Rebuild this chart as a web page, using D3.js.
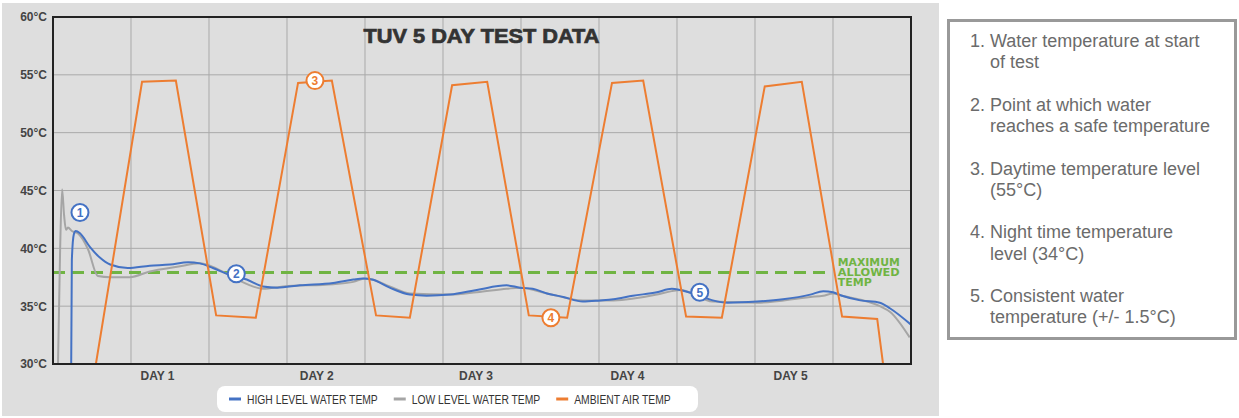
<!DOCTYPE html>
<html>
<head>
<meta charset="utf-8">
<script src="https://cdn.jsdelivr.net/npm/d3@7"></script>
<style>
  body { margin: 0; background: #fff; }
  svg { display: block; }
</style>
</head>
<body>
<svg id="chart" width="1239" height="418"></svg>
<script>
// hours since start of test, temperatures in °C
const ambientHours = [6.6, 13.7, 18.9, 25.1, 31.2, 37.7, 42.9, 49.7, 54.9, 61.4, 66.8, 73.2, 79.1, 86.0, 90.8, 97.4, 102.9, 109.5, 115.2, 121.4, 126.8, 127.7];
const ambientTemp  = [30.0, 54.4, 54.5, 34.2, 34.0, 54.3, 54.5, 34.2, 34.0, 54.1, 54.4, 34.2, 34.0, 54.3, 54.5, 34.1, 34.0, 54.0, 54.4, 34.1, 33.9, 30.0];

const highHours = [2.8, 2.9, 3.2, 3.5, 4.15, 5.7, 7.2, 8.8, 11.5, 14.9, 18.0, 20.8, 22.6, 24.6, 27.2, 29.8, 32.3, 34.5, 38.0, 43.1, 46.2, 47.7, 49.1, 51.8, 54.9, 57.5, 61.1, 65.2, 69.8, 71.8, 73.8, 76.0, 78.5, 81.5, 84.2, 86.2, 89.2, 92.9, 95.2, 96.5, 99.5, 101.5, 103.8, 108.3, 112.3, 116.5, 118.5, 120.0, 121.4, 124.2, 127.2, 128.8, 132.0];
const highTemp  = [30.0, 39.0, 41.2, 41.5, 41.3, 40.1, 39.2, 38.6, 38.3, 38.5, 38.6, 38.8, 38.7, 38.3, 37.7, 37.3, 36.7, 36.6, 36.8, 37.0, 37.3, 37.4, 37.3, 36.6, 36.0, 35.9, 36.0, 36.4, 36.8, 36.6, 36.5, 36.1, 35.8, 35.4, 35.5, 35.6, 35.9, 36.2, 36.5, 36.4, 35.9, 35.5, 35.3, 35.4, 35.6, 36.0, 36.3, 36.2, 35.9, 35.5, 35.3, 34.8, 33.4];

const lowHours = [0.77, 1.1, 1.4, 1.7, 2.0, 2.3, 2.9, 3.8, 5.4, 6.9, 8.8, 11.8, 14.9, 19.1, 22.6, 24.6, 27.7, 30.3, 32.3, 35.4, 43.1, 46.2, 48.0, 49.1, 51.8, 54.9, 61.1, 65.2, 69.8, 71.8, 76.0, 81.5, 86.2, 92.9, 95.2, 96.5, 101.5, 108.3, 116.5, 118.5, 120.0, 121.4, 127.2, 128.8, 131.8];
const lowTemp  = [30.0, 40.0, 45.1, 42.9, 41.6, 41.8, 41.5, 41.3, 39.9, 37.6, 37.5, 37.5, 38.0, 38.4, 38.7, 38.4, 37.5, 36.8, 36.5, 36.7, 36.9, 37.1, 37.4, 37.3, 36.7, 36.1, 36.0, 36.2, 36.5, 36.6, 36.1, 35.5, 35.5, 36.0, 36.3, 36.4, 35.4, 35.3, 35.8, 35.9, 36.1, 35.9, 35.0, 34.5, 32.3];

const maxAllowed = 37.9;
const maxAllowedEnd = 119.5;

const yTicks = [30, 35, 40, 45, 50, 55, 60];
const gridHours = [12, 24, 36, 48, 60, 72, 84, 96, 108, 120];
const dayLabels = ["DAY 1", "DAY 2", "DAY 3", "DAY 4", "DAY 5"];
const dayHours = [16, 40.5, 65, 88.3, 113.4];

const seriesNames = ["HIGH LEVEL WATER TEMP", "LOW LEVEL WATER TEMP", "AMBIENT AIR TEMP"];

const markerLabels = ["1", "2", "3", "4", "5"];
const markerHours = [4.15, 28.2, 40.3, 76.6, 99.5];
const markerTemp = [43.1, 37.8, 54.5, 34.0, 36.2];
const markerSeries = ["high", "high", "ambient", "ambient", "high"];

const notes = [
  ["Water temperature at start", "of test"],
  ["Point at which water", "reaches a safe temperature"],
  ["Daytime temperature level", "(55°C)"],
  ["Night time temperature", "level (34°C)"],
  ["Consistent water", "temperature (+/- 1.5°C)"]
];

const colors = { high: "#4472c4", low: "#a5a5a5", ambient: "#ed7d31", green: "#70b443" };

const svg = d3.select("#chart");
const plot = { left: 53, right: 911, top: 17, bottom: 364 };

const x = d3.scaleLinear().domain([0, 132]).range([plot.left, plot.right]);
const y = d3.scaleLinear().domain([30, 60]).range([plot.bottom, plot.top]);

// grey panel
svg.append("rect").attr("x", 2).attr("y", 3).attr("width", 937).attr("height", 413).attr("fill", "#dedede");

// grid
svg.append("g").selectAll("line").data(yTicks.slice(1, -1)).join("line")
  .attr("x1", plot.left).attr("x2", plot.right)
  .attr("y1", d => y(d)).attr("y2", d => y(d))
  .attr("stroke", "#a9a9a9").attr("stroke-width", 1);
svg.append("g").selectAll("line").data(gridHours).join("line")
  .attr("x1", d => x(d)).attr("x2", d => x(d))
  .attr("y1", plot.top).attr("y2", plot.bottom)
  .attr("stroke", "#a9a9a9").attr("stroke-width", 1);

// y axis labels
const yAxis = d3.axisLeft(y).tickValues(yTicks).tickSize(0).tickPadding(6).tickFormat(d => d + "°C");
svg.append("g").attr("transform", `translate(${plot.left},0)`).call(yAxis)
  .call(g => g.select(".domain").remove())
  .selectAll("text")
  .attr("font-family", "Liberation Sans, Arial, sans-serif")
  .attr("font-size", 12).attr("font-weight", "bold").attr("fill", "#444");

// day labels
const xAxis = d3.axisBottom(x).tickValues(dayHours).tickSize(0).tickPadding(7)
  .tickFormat((d, i) => dayLabels[i]);
svg.append("g").attr("transform", `translate(0,${plot.bottom})`).call(xAxis)
  .call(g => g.select(".domain").remove())
  .selectAll("text")
  .attr("font-family", "Liberation Sans, Arial, sans-serif")
  .attr("font-size", 12).attr("font-weight", "bold").attr("fill", "#444");

// title
svg.append("text").attr("x", 481.5).attr("y", 43).attr("text-anchor", "middle")
  .attr("font-family", "Liberation Sans, Arial, sans-serif").attr("font-weight", "bold")
  .attr("font-size", 20).attr("fill", "#333").attr("stroke", "#333").attr("stroke-width", 0.7)
  .attr("textLength", 236).attr("lengthAdjust", "spacingAndGlyphs")
  .text("TUV 5 DAY TEST DATA");

// clip for series
svg.append("clipPath").attr("id", "clip").append("rect")
  .attr("x", plot.left).attr("y", plot.top)
  .attr("width", plot.right - plot.left).attr("height", plot.bottom - plot.top);

const smooth = d3.line().x(d => x(d[0])).y(d => y(d[1])).curve(d3.curveMonotoneX);
const straight = d3.line().x(d => x(d[0])).y(d => y(d[1]));

const lines = svg.append("g").attr("clip-path", "url(#clip)");

// threshold line
lines.append("line")
  .attr("x1", plot.left).attr("x2", x(maxAllowedEnd))
  .attr("y1", y(maxAllowed)).attr("y2", y(maxAllowed))
  .attr("stroke", colors.green).attr("stroke-width", 3).attr("stroke-dasharray", "12,7");

lines.append("path").datum(lowHours.map((h, i) => [h, lowTemp[i]]))
  .attr("d", smooth).attr("fill", "none").attr("stroke", colors.low).attr("stroke-width", 2);
lines.append("path").datum(highHours.map((h, i) => [h, highTemp[i]]))
  .attr("d", smooth).attr("fill", "none").attr("stroke", colors.high).attr("stroke-width", 2);
lines.append("path").datum(ambientHours.map((h, i) => [h, ambientTemp[i]]))
  .attr("d", straight).attr("fill", "none").attr("stroke", colors.ambient).attr("stroke-width", 2);

// threshold label
svg.append("text").attr("x", x(maxAllowedEnd) + 8).attr("y", y(maxAllowed) - 7)
  .attr("font-family", "DejaVu Sans, sans-serif").attr("font-weight", "bold")
  .attr("font-size", 11).attr("fill", colors.green)
  .selectAll("tspan").data(["MAXIMUM", "ALLOWED", "TEMP"]).join("tspan")
  .attr("x", x(maxAllowedEnd) + 8).attr("dy", (d, i) => i ? 10 : 0)
  .attr("textLength", (d, i) => i === 2 ? null : 62).attr("lengthAdjust", "spacingAndGlyphs")
  .text(d => d);

// plot frame
svg.append("rect").attr("x", plot.left).attr("y", plot.top)
  .attr("width", plot.right - plot.left).attr("height", plot.bottom - plot.top)
  .attr("fill", "none").attr("stroke", "#222").attr("stroke-width", 2);

// numbered markers
const markers = svg.append("g").selectAll("g").data(markerLabels).join("g")
  .attr("transform", (d, i) => `translate(${x(markerHours[i])},${y(markerTemp[i])})`);
markers.append("circle").attr("r", 8.5).attr("fill", "#fff")
  .attr("stroke", (d, i) => colors[markerSeries[i]]).attr("stroke-width", 2);
markers.append("text").attr("text-anchor", "middle").attr("dy", "0.36em")
  .attr("font-family", "Liberation Sans, Arial, sans-serif").attr("font-weight", "bold")
  .attr("font-size", 12).attr("fill", (d, i) => colors[markerSeries[i]])
  .text(d => d);

// legend
svg.append("rect").attr("x", 217).attr("y", 386).attr("width", 481).attr("height", 26)
  .attr("rx", 8).attr("fill", "#fff");
const legendKeys = ["high", "low", "ambient"];
let lx = 229;
seriesNames.forEach((name, i) => {
  svg.append("line").attr("x1", lx).attr("x2", lx + 12).attr("y1", 399).attr("y2", 399)
    .attr("stroke", colors[legendKeys[i]]).attr("stroke-width", 3);
  const t = svg.append("text").attr("x", lx + 18).attr("y", 403.5)
    .attr("font-family", "Liberation Sans, Arial, sans-serif").attr("font-size", 12)
    .attr("fill", "#333").text(name);
  const w = t.node().getComputedTextLength() * 0.86;
  t.attr("textLength", w).attr("lengthAdjust", "spacingAndGlyphs");
  lx += 18 + w + 16;
});

// notes box
svg.append("rect").attr("x", 948.5).attr("y", 20.5).attr("width", 287).attr("height", 318)
  .attr("fill", "#fff").attr("stroke", "#999").attr("stroke-width", 3);
notes.forEach((lines, i) => {
  const base = 47 + i * 63.75;
  svg.append("text").attr("x", 970).attr("y", base)
    .attr("font-family", "Liberation Sans, Arial, sans-serif").attr("font-size", 18)
    .attr("fill", "#6b6b6b").text((i + 1) + ".");
  lines.forEach((ln, j) => {
    svg.append("text").attr("x", 990).attr("y", base + j * 21.3)
      .attr("font-family", "Liberation Sans, Arial, sans-serif").attr("font-size", 18)
      .attr("fill", "#6b6b6b").text(ln);
  });
});
</script>
</body>
</html>
